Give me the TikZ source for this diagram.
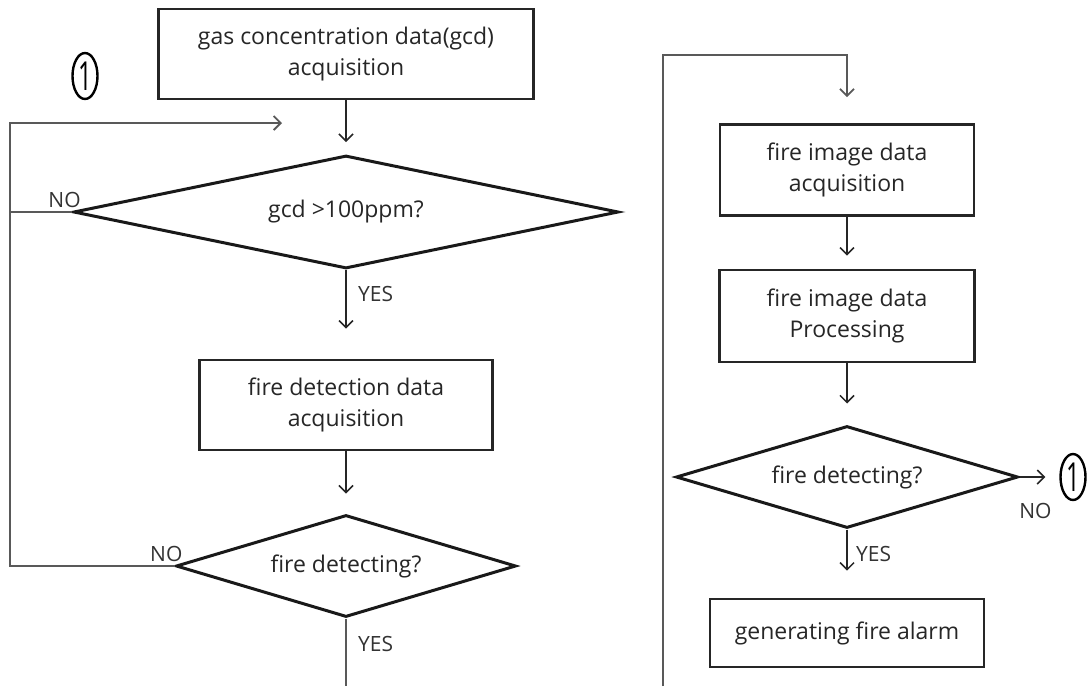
\documentclass[tikz,border=0pt]{standalone}
\usepackage{fontspec}
\setmainfont{Open Sans}
\usetikzlibrary{shapes.geometric,arrows.meta,positioning,calc}

\newcommand{\connone}{\scalebox{0.6}[1]{1}}

\begin{document}
\begin{tikzpicture}[x=1pt, y=-1pt, >={Straight Barb[length=7pt,width=14pt]},
        block/.style={draw=black!85, line width=2.8pt, rectangle, align=center, inner sep=0pt, text=black!85, font=\fontsize{23}{31}\selectfont},
        decision/.style={draw=black!90, line width=3pt, diamond, inner sep=0pt, text=black!85, font=\fontsize{23}{31}\selectfont},
        conn/.style={draw, ellipse, line width=2.4pt, minimum width=25pt, minimum height=46pt, inner sep=0pt, font=\fontsize{40}{40}\selectfont},
        flow/.style={->, line width=1.5pt, black!85},
        rail/.style={line width=1.8pt, black!65},
        lbl/.style={text=black!80, font=\fontsize{21}{24}\selectfont}]
        \useasboundingbox (0,0) rectangle (1091,686);

        % left column
        \node[block, minimum width=375pt, minimum height=90pt] (gcdacq) at (346,54) {gas concentration data(gcd)\\acquisition};
        \node[decision, aspect=4.8, minimum width=545pt, minimum height=113pt] (gcdtest) at (346,212) {gcd >100ppm?};
        \node[block, minimum width=293pt, minimum height=90pt] (detacq) at (346,405) {fire detection data\\acquisition};
        \node[decision, aspect=3.3, minimum width=340pt, minimum height=102pt] (dettest) at (346,566) {fire detecting?};
        \node[conn] (cone) at (85,76) {\connone};

        % right column
        \node[block, minimum width=254pt, minimum height=91pt] (imgacq) at (847,170) {fire image data\\acquisition};
        \node[block, minimum width=255pt, minimum height=92pt] (imgproc) at (847,316) {fire image data\\Processing};
        \node[decision, aspect=3.3, minimum width=342pt, minimum height=102pt] (imgtest) at (847,477) {fire detecting?};
        \node[block, minimum width=274pt, minimum height=68pt] (alarm) at (847,633) {generating fire alarm};
        \node[conn] (ctwo) at (1073,477) {\connone};

        \coordinate (looptop) at (10,123);
        \coordinate (loopin) at (282,123);
        \coordinate (bendtop) at (663,55);
        \coordinate (bendbot) at (663,686);

        \draw[flow, shorten >=12pt] (gcdacq) -- (gcdtest);
        \draw[flow, shorten >=30pt] (gcdtest) -- node[lbl, right=8pt, pos=0.27] {YES} (detacq);
        \draw[flow, shorten >=20pt] (detacq) -- (dettest);
        \draw[rail] (dettest.south) -- node[lbl, right=8pt, pos=0.38] {YES} (dettest.south |- bendbot);

        \draw[rail] (gcdtest.west) -- node[lbl, above, pos=0.12] {NO} (gcdtest.west -| looptop);
        \draw[rail, ->] (dettest.west) -- node[lbl, above, pos=0.05] {NO} (dettest.west -| looptop) -- (looptop) -- (loopin);

        \draw[rail, ->, shorten >=26pt] (bendbot) -- (bendtop) -| (imgacq);
        \draw[flow, shorten >=13pt] (imgacq) -- (imgproc);
        \draw[flow, shorten >=21pt] (imgproc) -- (imgtest);
        \draw[flow, shorten >=27pt] (imgtest) -- node[lbl, right=5pt, pos=0.36] {YES} (alarm);
        \draw[flow, shorten >=14pt] (imgtest) -- node[lbl, below=22pt, pos=0.4] {NO} (ctwo);
    \end{tikzpicture}
\end{document}
